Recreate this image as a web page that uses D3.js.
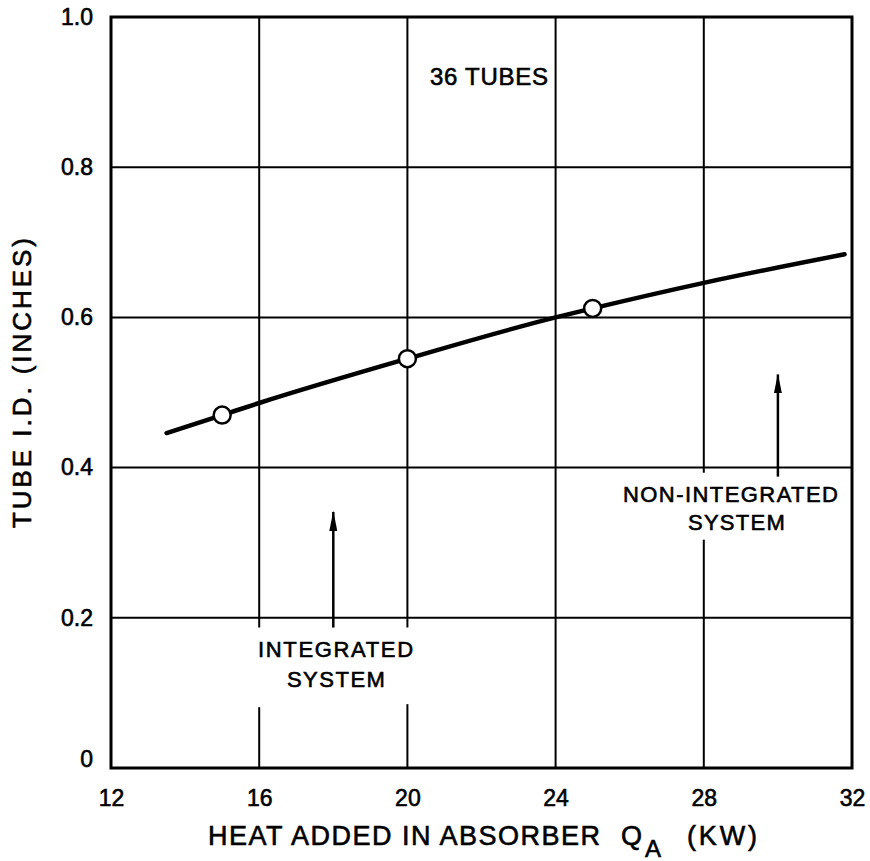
<!DOCTYPE html>
<html><head><meta charset="utf-8">
<script src="https://cdn.jsdelivr.net/npm/d3@7"></script>
<style>
body{margin:0;background:#fff;}
svg{display:block;}
text{font-family:"Liberation Sans",Arial,sans-serif;fill:#000;stroke:#000;stroke-width:0.6px;}
</style></head><body>
<svg id="chart" width="870" height="861"></svg>
<script>
// ---- data ----
const xTicks = [12, 16, 20, 24, 28, 32];
const yTicks = [0, 0.2, 0.4, 0.6, 0.8, 1.0];
const yTickLabels = ["0", "0.2", "0.4", "0.6", "0.8", "1.0"];
const curveQ  = [13.5, 15, 16, 20, 24, 25, 28, 31.8];
const curveID = [0.446, 0.470, 0.486, 0.545, 0.600, 0.612, 0.646, 0.684];
const pointQ  = [15, 20, 25];
const pointID = [0.470, 0.545, 0.612];
// vertical grid lines interrupted by annotation text
const gridGapX    = [16, 20, 28];
const gridGapLow  = [0.081, 0.085, 0.304];
const gridGapHigh = [0.187, 0.187, 0.393];
// arrows
const arrowQ    = [18, 30];
const arrowFrom = [0.187, 0.388];
const arrowTo   = [0.341, 0.524];
// annotation texts
const noteText = ["36 TUBES", "INTEGRATED", "SYSTEM", "NON-INTEGRATED", "SYSTEM"];
const noteQ    = [22.2, 18.06, 18.07, 28.72, 28.88];
const noteID   = [0.910, 0.148, 0.108, 0.354, 0.317];
const noteLen  = [118, 155, 98, 215, 97];

// ---- layout ----
const svg = d3.select("#chart");
const x = d3.scaleLinear().domain([12, 32]).range([111, 852]);
const y = d3.scaleLinear().domain([0, 1]).range([768, 17]);
const FONT = '"Liberation Sans",Arial,sans-serif';

// grid lines
const g = svg.append("g");
xTicks.slice(1, -1).forEach(q => {
  const gi = gridGapX.indexOf(q);
  const segs = gi < 0 ? [[0, 1]] : [[0, gridGapLow[gi]], [gridGapHigh[gi], 1]];
  segs.forEach(s => g.append("line")
    .attr("x1", x(q)).attr("x2", x(q)).attr("y1", y(s[0])).attr("y2", y(s[1]))
    .attr("stroke", "#000").attr("stroke-width", 2));
});
yTicks.slice(1, -1).forEach(v => g.append("line")
  .attr("x1", x(12)).attr("x2", x(32)).attr("y1", y(v)).attr("y2", y(v))
  .attr("stroke", "#000").attr("stroke-width", 2));

// frame
svg.append("rect").attr("x", x(12)).attr("y", y(1)).attr("width", x(32) - x(12)).attr("height", y(0) - y(1))
  .attr("fill", "none").attr("stroke", "#000").attr("stroke-width", 3);

// axes
const xAxis = svg.append("g").attr("transform", `translate(0,${y(0)})`)
  .call(d3.axisBottom(x).tickValues(xTicks).tickSize(0).tickPadding(22).tickFormat(d3.format("d")));
xAxis.select(".domain").remove();
xAxis.selectAll("text").attr("font-size", 23).style("font-family", FONT);

const yAxis = svg.append("g").attr("transform", `translate(${x(12)},0)`)
  .call(d3.axisLeft(y).tickValues(yTicks).tickSize(0).tickPadding(18).tickFormat((d, i) => yTickLabels[i]));
yAxis.select(".domain").remove();
yAxis.selectAll("text").attr("font-size", 23).style("font-family", FONT);
yAxis.selectAll(".tick").filter(d => d === 0).select("text").attr("y", -9);

// axis titles
svg.append("text").attr("x", 208).attr("y", 845).attr("font-size", 27)
  .attr("textLength", 392).attr("lengthAdjust", "spacing").text("HEAT ADDED IN ABSORBER");
svg.append("text").attr("x", 621).attr("y", 845).attr("font-size", 27).text("Q");
svg.append("text").attr("x", 645).attr("y", 857).attr("font-size", 24).text("A");
svg.append("text").attr("x", 687).attr("y", 845).attr("font-size", 27)
  .attr("textLength", 70).attr("lengthAdjust", "spacing").text("(KW)");

svg.append("text").attr("transform", "translate(31,383) rotate(-90)").attr("text-anchor", "middle")
  .attr("font-size", 26).attr("textLength", 290).attr("lengthAdjust", "spacing").text("TUBE I.D. (INCHES)");

// annotations
noteText.forEach((t, i) => svg.append("text")
  .attr("x", x(noteQ[i]) - noteLen[i] / 2).attr("y", y(noteID[i]))
  .attr("font-size", i === 0 ? 24 : 22).attr("textLength", noteLen[i]).attr("lengthAdjust", "spacing").text(t));

// arrows
svg.append("defs").append("marker").attr("id", "ah").attr("viewBox", "0 0 20 8")
  .attr("refX", 19).attr("refY", 4).attr("markerWidth", 20).attr("markerHeight", 8)
  .attr("markerUnits", "userSpaceOnUse").attr("orient", "auto")
  .append("path").attr("d", "M0,0 L20,4 L0,8 Z").attr("fill", "#000");
arrowQ.forEach((q, i) => svg.append("line")
  .attr("x1", x(q)).attr("x2", x(q)).attr("y1", y(arrowFrom[i])).attr("y2", y(arrowTo[i]))
  .attr("stroke", "#000").attr("stroke-width", 2.5).attr("marker-end", "url(#ah)"));

// curve
const pts = curveQ.map((q, i) => [q, curveID[i]]);
svg.append("path").datum(pts)
  .attr("d", d3.line().x(d => x(d[0])).y(d => y(d[1])).curve(d3.curveMonotoneX))
  .attr("fill", "none").attr("stroke", "#000").attr("stroke-width", 4.5).attr("stroke-linecap", "round");

// points
svg.selectAll("circle.pt").data(pointQ).enter().append("circle")
  .attr("cx", d => x(d)).attr("cy", (d, i) => y(pointID[i])).attr("r", 8.5)
  .attr("fill", "#fff").attr("stroke", "#000").attr("stroke-width", 2.5);
</script>
</body></html>
